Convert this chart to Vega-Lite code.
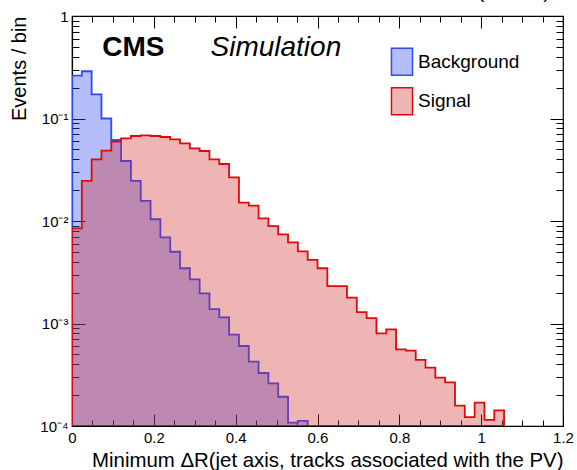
{
  "$schema": "https://vega.github.io/schema/vega-lite/v6.json",
  "width": 491,
  "height": 410,
  "autosize": {"type": "none"},
  "padding": {"left": 72, "top": 16, "right": 14, "bottom": 44},
  "config": {
    "font": "Liberation Sans",
    "view": {"stroke": "black", "strokeWidth": 1.2},
    "axis": {"zindex": 1, "grid": false, "domainColor": "black", "domainWidth": 1.2, "tickColor": "black", "tickWidth": 1, "tickOpacity": 1, "labelColor": "black", "titleColor": "black", "titleFontWeight": "normal", "labelFont": "Liberation Sans", "titleFont": "Liberation Sans", "labelFlush": false, "labelOverlap": false}
  },
  "datasets": {
    "hist": [
      {"series": "Background", "lo": 0, "hi": 0.024, "v": 0.262},
      {"series": "Background", "lo": 0.024, "hi": 0.048, "v": 0.289},
      {"series": "Background", "lo": 0.048, "hi": 0.072, "v": 0.172},
      {"series": "Background", "lo": 0.072, "hi": 0.096, "v": 0.100},
      {"series": "Background", "lo": 0.096, "hi": 0.12, "v": 0.0617},
      {"series": "Background", "lo": 0.12, "hi": 0.144, "v": 0.0385},
      {"series": "Background", "lo": 0.144, "hi": 0.168, "v": 0.0246},
      {"series": "Background", "lo": 0.168, "hi": 0.192, "v": 0.0157},
      {"series": "Background", "lo": 0.192, "hi": 0.216, "v": 0.0104},
      {"series": "Background", "lo": 0.216, "hi": 0.24, "v": 0.00693},
      {"series": "Background", "lo": 0.24, "hi": 0.264, "v": 0.00501},
      {"series": "Background", "lo": 0.264, "hi": 0.288, "v": 0.00346},
      {"series": "Background", "lo": 0.288, "hi": 0.312, "v": 0.00270},
      {"series": "Background", "lo": 0.312, "hi": 0.336, "v": 0.00197},
      {"series": "Background", "lo": 0.336, "hi": 0.36, "v": 0.00138},
      {"series": "Background", "lo": 0.36, "hi": 0.384, "v": 0.00115},
      {"series": "Background", "lo": 0.384, "hi": 0.408, "v": 0.000778},
      {"series": "Background", "lo": 0.408, "hi": 0.432, "v": 0.000603},
      {"series": "Background", "lo": 0.432, "hi": 0.456, "v": 0.000424},
      {"series": "Background", "lo": 0.456, "hi": 0.48, "v": 0.000329},
      {"series": "Background", "lo": 0.48, "hi": 0.504, "v": 0.000261},
      {"series": "Background", "lo": 0.504, "hi": 0.528, "v": 0.000193},
      {"series": "Background", "lo": 0.528, "hi": 0.552, "v": 0.000108},
      {"series": "Background", "lo": 0.552, "hi": 0.576, "v": 0.000112},
      {"series": "Signal", "lo": 0, "hi": 0.024, "v": 0.00849},
      {"series": "Signal", "lo": 0.024, "hi": 0.048, "v": 0.0246},
      {"series": "Signal", "lo": 0.048, "hi": 0.072, "v": 0.0400},
      {"series": "Signal", "lo": 0.072, "hi": 0.096, "v": 0.0485},
      {"series": "Signal", "lo": 0.096, "hi": 0.12, "v": 0.0594},
      {"series": "Signal", "lo": 0.12, "hi": 0.144, "v": 0.0641},
      {"series": "Signal", "lo": 0.144, "hi": 0.168, "v": 0.0675},
      {"series": "Signal", "lo": 0.168, "hi": 0.192, "v": 0.0686},
      {"series": "Signal", "lo": 0.192, "hi": 0.216, "v": 0.0675},
      {"series": "Signal", "lo": 0.216, "hi": 0.24, "v": 0.0660},
      {"series": "Signal", "lo": 0.24, "hi": 0.264, "v": 0.0627},
      {"series": "Signal", "lo": 0.264, "hi": 0.288, "v": 0.0573},
      {"series": "Signal", "lo": 0.288, "hi": 0.312, "v": 0.0512},
      {"series": "Signal", "lo": 0.312, "hi": 0.336, "v": 0.0482},
      {"series": "Signal", "lo": 0.336, "hi": 0.36, "v": 0.0400},
      {"series": "Signal", "lo": 0.36, "hi": 0.384, "v": 0.0360},
      {"series": "Signal", "lo": 0.384, "hi": 0.408, "v": 0.0267},
      {"series": "Signal", "lo": 0.408, "hi": 0.432, "v": 0.0151},
      {"series": "Signal", "lo": 0.432, "hi": 0.456, "v": 0.0141},
      {"series": "Signal", "lo": 0.456, "hi": 0.48, "v": 0.0106},
      {"series": "Signal", "lo": 0.48, "hi": 0.504, "v": 0.00893},
      {"series": "Signal", "lo": 0.504, "hi": 0.528, "v": 0.00741},
      {"series": "Signal", "lo": 0.528, "hi": 0.552, "v": 0.00619},
      {"series": "Signal", "lo": 0.552, "hi": 0.576, "v": 0.00506},
      {"series": "Signal", "lo": 0.576, "hi": 0.6, "v": 0.00417},
      {"series": "Signal", "lo": 0.6, "hi": 0.624, "v": 0.00346},
      {"series": "Signal", "lo": 0.624, "hi": 0.648, "v": 0.00232},
      {"series": "Signal", "lo": 0.648, "hi": 0.672, "v": 0.00232},
      {"series": "Signal", "lo": 0.672, "hi": 0.696, "v": 0.00179},
      {"series": "Signal", "lo": 0.696, "hi": 0.72, "v": 0.00129},
      {"series": "Signal", "lo": 0.72, "hi": 0.744, "v": 0.00113},
      {"series": "Signal", "lo": 0.744, "hi": 0.768, "v": 0.000802},
      {"series": "Signal", "lo": 0.768, "hi": 0.792, "v": 0.000877},
      {"series": "Signal", "lo": 0.792, "hi": 0.816, "v": 0.000560},
      {"series": "Signal", "lo": 0.816, "hi": 0.84, "v": 0.000543},
      {"series": "Signal", "lo": 0.84, "hi": 0.864, "v": 0.000441},
      {"series": "Signal", "lo": 0.864, "hi": 0.888, "v": 0.000371},
      {"series": "Signal", "lo": 0.888, "hi": 0.912, "v": 0.000296},
      {"series": "Signal", "lo": 0.912, "hi": 0.936, "v": 0.000267},
      {"series": "Signal", "lo": 0.936, "hi": 0.96, "v": 0.000158},
      {"series": "Signal", "lo": 0.96, "hi": 0.984, "v": 0.000122},
      {"series": "Signal", "lo": 0.984, "hi": 1.008, "v": 0.000169},
      {"series": "Signal", "lo": 1.008, "hi": 1.032, "v": 0.000115},
      {"series": "Signal", "lo": 1.032, "hi": 1.056, "v": 0.000142}
    ]
  },
  "resolve": {"axis": {"x": "independent", "y": "independent"}},
  "layer": [
    {
      "data": {"name": "hist"},
      "transform": [
        {"filter": "datum.series == 'Background'"},
        {"fold": ["lo", "hi"], "as": ["edge", "x"]}
      ],
      "mark": {"type": "area", "fillOpacity": 0.35, "strokeWidth": 1.8, "clip": true, "interpolate": "linear"},
      "encoding": {
        "x": {"field": "x", "type": "quantitative", "scale": {"domain": [0, 1.2], "nice": false, "zero": false},
          "axis": {"orient": "bottom", "values": [0, 0.2, 0.4, 0.6, 0.8, 1, 1.2], "format": "~g",
            "ticks": true, "tickSize": -12,
            "title": "Minimum ΔR(jet axis, tracks associated with the PV)",
            "titleFontSize": 20.4, "titleAnchor": "end", "titleBaseline": "alphabetic", "titleY": 40,
            "labelFontSize": 15, "labelPadding": 16}},
        "y": {"field": "v", "type": "quantitative", "stack": null, "scale": {"type": "log", "domain": [0.0001, 1], "nice": false},
          "axis": {"orient": "left", "values": [0.0001, 0.001, 0.01, 0.1, 1],
            "ticks": true, "tickSize": -13,
            "title": "Events / bin", "titleFontSize": 20, "titleAnchor": "end", "titlePadding": 10,
            "labelExpr": "abs(datum.value-1)<1e-9 ? '1' : '10' + ['', '⁻¹', '⁻²', '⁻³', '⁻⁴'][-round(log(datum.value)/LN10)]",
            "labelFontSize": 15, "labelPadding": 17}},
        "y2": {"datum": 0.0001},
        "order": [{"field": "lo", "type": "quantitative"}, {"field": "edge", "type": "nominal", "sort": "descending"}],
        "fill": {"field": "series", "type": "nominal",
          "scale": {"domain": ["Background", "Signal"], "range": ["#2446f1", "#d12929"]},
          "legend": {"title": null, "orient": "none", "legendX": 315.5, "legendY": 31.3, "padding": 0,
            "symbolType": "M-0.78,-1H0.78V1H-0.78Z", "symbolSize": 729, "symbolStrokeWidth": 1.5,
            "labelFontSize": 19, "labelColor": "black", "labelOffset": 1.5, "rowPadding": 6.5,
            "encode": {"symbols": {"update": {"fillOpacity": {"value": 0.35}, "strokeOpacity": {"value": 1}}}}}},
        "stroke": {"field": "series", "type": "nominal",
          "scale": {"domain": ["Background", "Signal"], "range": ["#2a4cff", "#dd0b0b"]},
          "legend": {"title": null, "orient": "none", "legendX": 315.5, "legendY": 31.3, "padding": 0,
            "symbolType": "M-0.78,-1H0.78V1H-0.78Z", "symbolSize": 729, "symbolStrokeWidth": 1.5,
            "labelFontSize": 19, "labelColor": "black", "labelOffset": 1.5, "rowPadding": 6.5,
            "encode": {"symbols": {"update": {"fillOpacity": {"value": 0.35}, "strokeOpacity": {"value": 1}}}}}}
      }
    },
    {
      "data": {"name": "hist"},
      "transform": [
        {"filter": "datum.series == 'Signal'"},
        {"fold": ["lo", "hi"], "as": ["edge", "x"]}
      ],
      "mark": {"type": "area", "fillOpacity": 0.35, "strokeWidth": 1.8, "clip": true, "interpolate": "linear"},
      "encoding": {
        "x": {"field": "x", "type": "quantitative",
          "axis": {"orient": "bottom", "labels": false, "title": null, "domain": false, "ticks": true, "tickSize": -6,
            "values": [0.05, 0.1, 0.15, 0.25, 0.3, 0.35, 0.45, 0.5, 0.55, 0.65, 0.7, 0.75, 0.85, 0.9, 0.95, 1.05, 1.1, 1.15]}},
        "y": {"field": "v", "type": "quantitative", "stack": null,
          "axis": {"orient": "left", "labels": false, "title": null, "domain": false, "ticks": true, "tickSize": -7,
            "values": [0.0002,0.0003,0.0004,0.0005,0.0006,0.0007,0.0008,0.0009,0.002,0.003,0.004,0.005,0.006,0.007,0.008,0.009,0.02,0.03,0.04,0.05,0.06,0.07,0.08,0.09,0.2,0.3,0.4,0.5,0.6,0.7,0.8,0.9]}},
        "y2": {"datum": 0.0001},
        "order": [{"field": "lo", "type": "quantitative"}, {"field": "edge", "type": "nominal", "sort": "descending"}],
        "fill": {"field": "series", "type": "nominal"},
        "stroke": {"field": "series", "type": "nominal"}
      }
    },
    {
      "data": {"values": [{}]},
      "mark": {"type": "text", "font": "Liberation Sans", "fontWeight": "bold", "fontSize": 28, "align": "left", "baseline": "alphabetic", "color": "black"},
      "encoding": {
        "x": {"datum": 0.0738, "type": "quantitative",
          "axis": {"orient": "top", "labels": false, "title": null, "domain": false, "ticks": true, "tickSize": -12,
            "values": [0, 0.2, 0.4, 0.6, 0.8, 1, 1.2]}},
        "y": {"datum": 0.407, "type": "quantitative",
          "axis": {"orient": "right", "labels": false, "title": null, "domain": false, "ticks": true, "tickSize": -13,
            "values": [0.0001, 0.001, 0.01, 0.1, 1]}},
        "text": {"value": "CMS"}
      }
    },
    {
      "data": {"values": [{}]},
      "mark": {"type": "text", "font": "Liberation Sans", "fontStyle": "italic", "fontSize": 28, "align": "left", "baseline": "alphabetic", "color": "black"},
      "encoding": {
        "x": {"datum": 0.3385, "type": "quantitative",
          "axis": {"orient": "top", "labels": false, "title": null, "domain": false, "ticks": true, "tickSize": -6,
            "values": [0.05, 0.1, 0.15, 0.25, 0.3, 0.35, 0.45, 0.5, 0.55, 0.65, 0.7, 0.75, 0.85, 0.9, 0.95, 1.05, 1.1, 1.15]}},
        "y": {"datum": 0.407, "type": "quantitative",
          "axis": {"orient": "right", "labels": false, "title": null, "domain": false, "ticks": true, "tickSize": -7,
            "values": [0.0002,0.0003,0.0004,0.0005,0.0006,0.0007,0.0008,0.0009,0.002,0.003,0.004,0.005,0.006,0.007,0.008,0.009,0.02,0.03,0.04,0.05,0.06,0.07,0.08,0.09,0.2,0.3,0.4,0.5,0.6,0.7,0.8,0.9]}},
        "text": {"value": "Simulation"}
      }
    },
    {
      "data": {"values": [{}]},
      "mark": {"type": "text", "font": "Liberation Sans", "fontSize": 19, "align": "right", "baseline": "alphabetic", "color": "black", "clip": false},
      "encoding": {
        "x": {"datum": 1.167, "type": "quantitative", "axis": null},
        "y": {"datum": 1.5, "type": "quantitative", "axis": null},
        "text": {"value": "(13 TeV)"}
      }
    }
  ]
}
